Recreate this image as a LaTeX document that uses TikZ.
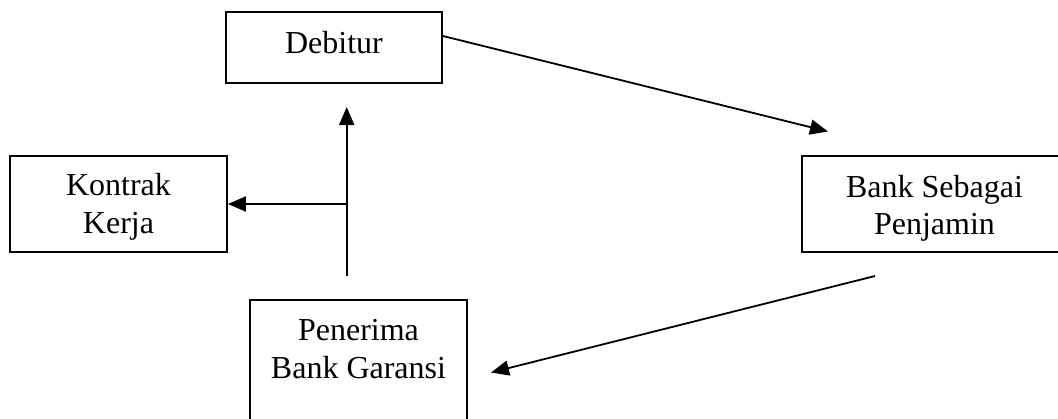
\documentclass[tikz,border=0pt]{standalone}
\usepackage{fontspec}
\setmainfont{Liberation Serif}
\usetikzlibrary{arrows.meta,calc}
\begin{document}
\begin{tikzpicture}[x=1pt,y=-1pt,
  box/.style={draw=black,line width=1.8pt,rectangle,inner sep=0pt},
  lbl/.style={font=\fontsize{32}{38}\selectfont,anchor=base,inner sep=0pt},
  conn/.style={draw=black,line width=1.8pt},
  arr/.style={conn,-{Triangle[length=18pt,width=15pt]}}]
\useasboundingbox (0,0) rectangle (1058,418);
\clip (0,0) rectangle (1058,418);
% boxes
\node[box,minimum width=216pt,minimum height=71pt] (deb) at (334,47.5) {};
\node[box,minimum width=217pt,minimum height=96pt] (kon) at (118.5,204) {};
\node[box,minimum width=265pt,minimum height=96pt] (bank) at (934.5,204) {};
\node[box,minimum width=217pt,minimum height=150pt] (pen) at (358.5,375) {};
% labels
\node[lbl] (tdeb) at (334,53) {Debitur};
\node[lbl] (tkon1) at (118.5,195) {Kontrak};
\node[lbl] (tkon2) at (118.5,233) {Kerja};
\node[lbl] (tbank1) at (934.5,197) {Bank Sebagai};
\node[lbl] (tbank2) at (934.5,234) {Penjamin};
\node[lbl] (tpen1) at (358.5,340) {Penerima};
\node[lbl] (tpen2) at (358.5,378) {Bank Garansi};
% connector points
\coordinate (c1) at (828,131.5);
\coordinate (vb) at (346.7,276);
\coordinate (vt) at (346.7,107);
\coordinate (vm) at (346.7,204);
\coordinate (bs) at (875,276);
\coordinate (pe) at (491,372.5);
% connectors
\draw[arr] ($(deb.east)+(0,-11.5)$) -- (c1);
\draw[arr] (vb) -- (vt);
\draw[arr] (vm) -- (kon.east);
\draw[arr] (bs) -- (pe);
\end{tikzpicture}
\end{document}
